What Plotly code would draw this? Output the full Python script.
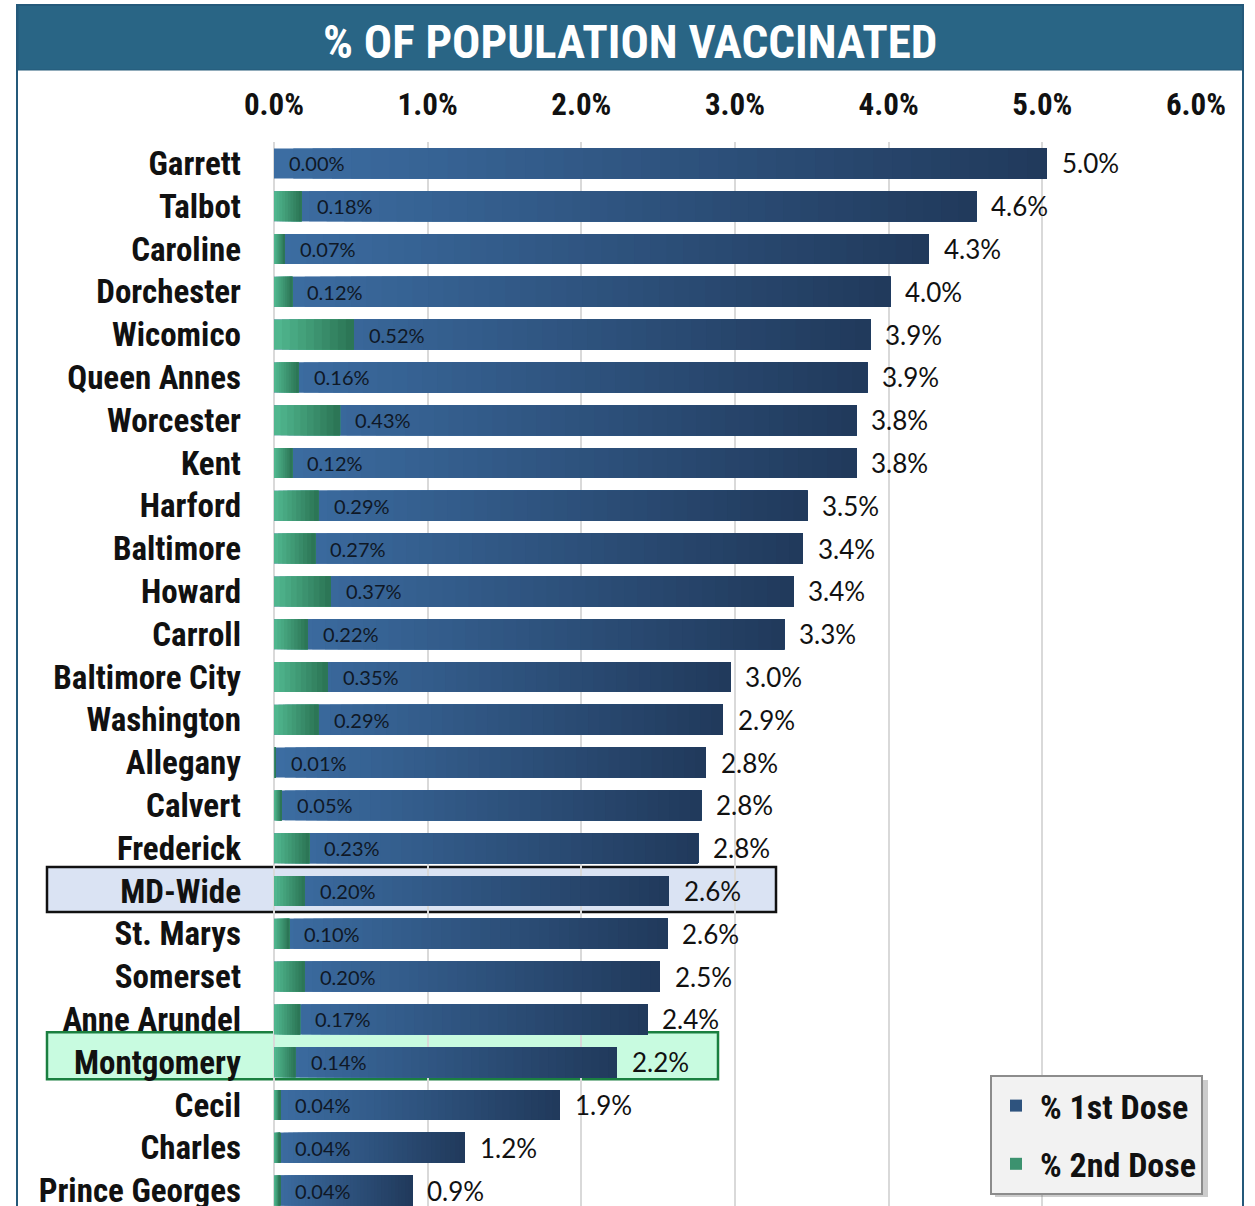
import plotly.graph_objects as go

# ---------------- data ----------------
counties = ["Garrett", "Talbot", "Caroline", "Dorchester", "Wicomico", "Queen Annes",
            "Worcester", "Kent", "Harford", "Baltimore", "Howard", "Carroll",
            "Baltimore City", "Washington", "Allegany", "Calvert", "Frederick",
            "MD-Wide", "St. Marys", "Somerset", "Anne Arundel", "Montgomery",
            "Cecil", "Charles", "Prince Georges"]
first_dose = [5.03, 4.57, 4.26, 4.01, 3.88, 3.86, 3.79, 3.79, 3.47, 3.44, 3.38, 3.32,
              2.97, 2.92, 2.81, 2.78, 2.76, 2.57, 2.56, 2.51, 2.43, 2.23, 1.86, 1.24, 0.90]
second_dose = [0.00, 0.18, 0.07, 0.12, 0.52, 0.16, 0.43, 0.12, 0.29, 0.27, 0.37, 0.22,
               0.35, 0.29, 0.01, 0.05, 0.23, 0.20, 0.10, 0.20, 0.17, 0.14, 0.04, 0.04, 0.04]
x_ticks = [0, 1, 2, 3, 4, 5, 6]
title_text = "% OF POPULATION VACCINATED"
series_names = ["% 1st Dose", "% 2nd Dose"]

# ---------------- layout geometry ----------------
W, H = 1255, 1206
ML, MR, MT, MB = 274, 59, 142, 0
PW, PH = W - ML - MR, H - MT - MB


def px2x(px):
    return (px - ML) / PW


def py2y(py):
    return (H - MB - py) / PH


COND = "Roboto Condensed, Open Sans Condensed, DejaVu Sans Condensed, sans-serif"
BODY = "Lato, Noto Sans, sans-serif"


def lerp(c0, c1, t):
    return "rgb(%d,%d,%d)" % tuple(round(a + (b - a) * t) for a, b in zip(c0, c1))


BLUE0, BLUE1 = (60, 109, 162), (33, 58, 92)
GREEN0, GREEN1 = (80, 182, 142), (44, 118, 86)

fig = go.Figure()


def add_gradient_bars(values, c0, c1, n, name, group):
    for k in range(n):
        t = k / (n - 1)
        fig.add_trace(go.Bar(
            y=counties,
            x=[v * (1 - k / n) for v in values],
            base=[v * k / n for v in values],
            orientation="h",
            width=0.7,
            marker=dict(color=lerp(c0, c1, t), line=dict(width=0)),
            name=name,
            legendgroup=group,
            showlegend=(k == n // 2),
            hoverinfo="skip",
        ))


add_gradient_bars(first_dose, BLUE0, BLUE1, 40, series_names[0], "a")
add_gradient_bars(second_dose, GREEN0, GREEN1, 10, series_names[1], "b")

annotations = []
for c, v1, v2 in zip(counties, first_dose, second_dose):
    annotations.append(dict(x=v2, y=c, xref="x", yref="y", text=f"{v2:.2f}%",
                            showarrow=False, xanchor="left", xshift=13,
                            font=dict(family=BODY, size=20, color="#0f1826")))
    annotations.append(dict(x=v1, y=c, xref="x", yref="y", text=f"{v1:.1f}%",
                            showarrow=False, xanchor="left", xshift=13,
                            font=dict(family=BODY, size=26, color="#111111")))

annotations.append(dict(x=px2x(630), y=py2y(41), xref="paper", yref="paper",
                        text=title_text, showarrow=False, xanchor="center", yanchor="middle",
                        font=dict(family=COND, size=47, color="white", weight="bold")))

iMD = counties.index("MD-Wide")
iMO = counties.index("Montgomery")

shapes = [
    # highlight rows
    dict(type="rect", xref="paper", yref="y", x0=px2x(47), x1=px2x(776),
         y0=iMD - 0.56, y1=iMD + 0.49, fillcolor="#dae3f3",
         line=dict(color="#111111", width=2.5), layer="below"),
    dict(type="rect", xref="paper", yref="y", x0=px2x(47), x1=px2x(718),
         y0=iMO - 0.70, y1=iMO + 0.40, fillcolor="#c8fbe0",
         line=dict(color="#1a7f40", width=2.5), layer="below"),
    # title bar
    dict(type="rect", xref="paper", yref="paper", x0=px2x(18), x1=px2x(1243),
         y0=py2y(70), y1=py2y(5), fillcolor="#296585",
         line=dict(color="#245a78", width=1), layer="above"),
    # outer border
    dict(type="rect", xref="paper", yref="paper", x0=px2x(17), x1=px2x(1243),
         y0=py2y(1230), y1=py2y(5), fillcolor="rgba(0,0,0,0)",
         line=dict(color="#24597a", width=2), layer="above"),
    # legend shadow
    dict(type="rect", xref="paper", yref="paper", x0=px2x(995), x1=px2x(1208),
         y0=py2y(1197), y1=py2y(1080), fillcolor="rgba(110,110,110,0.35)",
         line=dict(width=0), layer="above"),
]

fig.update_layout(
    width=W, height=H,
    margin=dict(l=ML, r=MR, t=MT, b=MB, pad=0, autoexpand=False),
    paper_bgcolor="white",
    plot_bgcolor="rgba(0,0,0,0)",
    barmode="overlay",
    showlegend=True,
    legend=dict(x=px2x(990), y=py2y(1075), xanchor="left", yanchor="top",
                bgcolor="#f2f2f2", bordercolor="#8c8c8c", borderwidth=2,
                font=dict(family=COND, size=34, color="#111111", weight="bold"),
                tracegroupgap=11, traceorder="grouped", itemwidth=38),
    xaxis=dict(side="top", range=[0, 6], tickvals=x_ticks,
               ticktext=[f"{t:.1f}%" for t in x_ticks],
               showgrid=True, gridcolor="#d9d9d9", gridwidth=2,
               zeroline=True, zerolinecolor="#d9d9d9", zerolinewidth=2,
               showline=False, ticks="", ticklabelstandoff=20, automargin=False,
               tickfont=dict(family=COND, size=31, color="#111111", weight="bold"),
               fixedrange=True),
    yaxis=dict(type="category", categoryorder="array", categoryarray=counties,
               range=[24.36, -0.5], showgrid=False, zeroline=False, showline=False,
               ticks="", ticklabelstandoff=32, automargin=False,
               tickfont=dict(family=COND, size=33, color="#111111", weight="bold"),
               fixedrange=True),
    annotations=annotations,
    shapes=shapes,
)

fig.write_html("out.html", config={"displayModeBar": False},
               post_script="document.body.style.margin='0px';")
